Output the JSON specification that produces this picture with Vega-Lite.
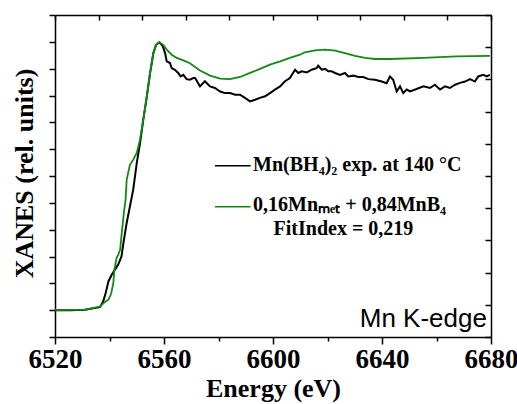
{
  "$schema": "https://vega.github.io/schema/vega-lite/v6.json",
  "width": 436,
  "height": 322,
  "autosize": {"type": "none"},
  "padding": {"left": 55, "top": 15, "right": 26, "bottom": 67},
  "background": "white",
  "config": {"view": {"stroke": null}},
  "datasets": {
    "exp": [
      {"E": 6520, "I": 0.0}, {"E": 6525.5, "I": 0.0}, {"E": 6531.0, "I": 0.002}, {"E": 6536.5, "I": 0.011},
      {"E": 6537.7, "I": 0.033}, {"E": 6538.6, "I": 0.064}, {"E": 6539.6, "I": 0.107}, {"E": 6540.8, "I": 0.132},
      {"E": 6542.0, "I": 0.151}, {"E": 6543.2, "I": 0.170}, {"E": 6544.4, "I": 0.200}, {"E": 6545.1, "I": 0.250},
      {"E": 6546.3, "I": 0.325}, {"E": 6547.5, "I": 0.387}, {"E": 6548.7, "I": 0.449}, {"E": 6550.0, "I": 0.548},
      {"E": 6551.2, "I": 0.622}, {"E": 6552.4, "I": 0.710}, {"E": 6553.7, "I": 0.797}, {"E": 6554.9, "I": 0.884},
      {"E": 6556.1, "I": 0.958}, {"E": 6557.1, "I": 0.989}, {"E": 6558.3, "I": 0.998}, {"E": 6559.5, "I": 0.985},
      {"E": 6560.4, "I": 0.958}, {"E": 6561.0, "I": 0.927}, {"E": 6562.2, "I": 0.921}, {"E": 6562.8, "I": 0.902},
      {"E": 6564.0, "I": 0.896}, {"E": 6565.2, "I": 0.884}, {"E": 6566.1, "I": 0.871}, {"E": 6567.1, "I": 0.877},
      {"E": 6568.3, "I": 0.861}, {"E": 6569.5, "I": 0.859}, {"E": 6570.8, "I": 0.865}, {"E": 6571.4, "I": 0.865},
      {"E": 6573.2, "I": 0.834}, {"E": 6575.0, "I": 0.853}, {"E": 6576.9, "I": 0.834}, {"E": 6578.7, "I": 0.828},
      {"E": 6580.6, "I": 0.815}, {"E": 6582.4, "I": 0.809}, {"E": 6584.2, "I": 0.809}, {"E": 6586.1, "I": 0.803},
      {"E": 6587.9, "I": 0.803}, {"E": 6589.7, "I": 0.791}, {"E": 6591.6, "I": 0.778}, {"E": 6593.4, "I": 0.784},
      {"E": 6595.2, "I": 0.791}, {"E": 6597.1, "I": 0.797}, {"E": 6598.9, "I": 0.809}, {"E": 6600.7, "I": 0.822},
      {"E": 6602.6, "I": 0.834}, {"E": 6604.4, "I": 0.853}, {"E": 6606.2, "I": 0.865}, {"E": 6608.1, "I": 0.896},
      {"E": 6609.3, "I": 0.884}, {"E": 6610.5, "I": 0.890}, {"E": 6612.4, "I": 0.886}, {"E": 6614.2, "I": 0.896},
      {"E": 6616.0, "I": 0.902}, {"E": 6616.6, "I": 0.911}, {"E": 6617.9, "I": 0.896}, {"E": 6619.1, "I": 0.899},
      {"E": 6620.3, "I": 0.890}, {"E": 6621.5, "I": 0.890}, {"E": 6622.8, "I": 0.884}, {"E": 6624.6, "I": 0.877},
      {"E": 6626.4, "I": 0.884}, {"E": 6627.6, "I": 0.871}, {"E": 6629.5, "I": 0.874}, {"E": 6631.3, "I": 0.869},
      {"E": 6633.1, "I": 0.869}, {"E": 6635.0, "I": 0.861}, {"E": 6637.4, "I": 0.859}, {"E": 6639.9, "I": 0.852},
      {"E": 6641.7, "I": 0.846}, {"E": 6642.9, "I": 0.871}, {"E": 6644.1, "I": 0.859}, {"E": 6645.4, "I": 0.815},
      {"E": 6646.6, "I": 0.834}, {"E": 6647.8, "I": 0.809}, {"E": 6649.1, "I": 0.822}, {"E": 6650.3, "I": 0.815},
      {"E": 6652.7, "I": 0.824}, {"E": 6655.2, "I": 0.834}, {"E": 6657.6, "I": 0.828}, {"E": 6659.4, "I": 0.840},
      {"E": 6661.3, "I": 0.822}, {"E": 6663.1, "I": 0.834}, {"E": 6664.9, "I": 0.828}, {"E": 6666.8, "I": 0.840},
      {"E": 6668.6, "I": 0.847}, {"E": 6670.5, "I": 0.852}, {"E": 6672.3, "I": 0.861}, {"E": 6674.1, "I": 0.852},
      {"E": 6675.3, "I": 0.871}, {"E": 6677.2, "I": 0.877}, {"E": 6678.4, "I": 0.871}, {"E": 6679.6, "I": 0.877}
    ],
    "fit": [
      {"E": 6520, "I": 0.0}, {"E": 6531, "I": 0.002}, {"E": 6536.5, "I": 0.013}, {"E": 6538.0, "I": 0.028},
      {"E": 6539.6, "I": 0.039}, {"E": 6540.6, "I": 0.061}, {"E": 6541.4, "I": 0.101}, {"E": 6541.8, "I": 0.151},
      {"E": 6542.6, "I": 0.194}, {"E": 6543.2, "I": 0.207}, {"E": 6543.9, "I": 0.225}, {"E": 6544.5, "I": 0.288},
      {"E": 6545.4, "I": 0.374}, {"E": 6545.9, "I": 0.412}, {"E": 6546.3, "I": 0.486}, {"E": 6547.5, "I": 0.542},
      {"E": 6548.7, "I": 0.561}, {"E": 6550.0, "I": 0.586}, {"E": 6551.2, "I": 0.636}, {"E": 6552.4, "I": 0.710},
      {"E": 6553.7, "I": 0.797}, {"E": 6554.9, "I": 0.884}, {"E": 6556.1, "I": 0.958}, {"E": 6557.1, "I": 0.989},
      {"E": 6558.3, "I": 0.999}, {"E": 6559.7, "I": 0.989}, {"E": 6561.0, "I": 0.971}, {"E": 6562.8, "I": 0.952},
      {"E": 6564.7, "I": 0.940}, {"E": 6567.1, "I": 0.931}, {"E": 6569.5, "I": 0.920}, {"E": 6573.2, "I": 0.893},
      {"E": 6576.9, "I": 0.874}, {"E": 6580.6, "I": 0.863}, {"E": 6584.2, "I": 0.861}, {"E": 6587.9, "I": 0.869},
      {"E": 6591.6, "I": 0.884}, {"E": 6595.2, "I": 0.899}, {"E": 6598.9, "I": 0.915}, {"E": 6602.6, "I": 0.927},
      {"E": 6606.2, "I": 0.940}, {"E": 6609.9, "I": 0.952}, {"E": 6611.7, "I": 0.961}, {"E": 6615.4, "I": 0.968},
      {"E": 6619.1, "I": 0.971}, {"E": 6622.8, "I": 0.967}, {"E": 6626.4, "I": 0.958}, {"E": 6630.1, "I": 0.948},
      {"E": 6633.8, "I": 0.940}, {"E": 6637.4, "I": 0.936}, {"E": 6642.9, "I": 0.936}, {"E": 6655.2, "I": 0.940},
      {"E": 6667.4, "I": 0.946}, {"E": 6679.6, "I": 0.948}
    ],
    "legend": [
      {"series": "exp", "E1": 6578.7, "E2": 6591.8, "I": 0.538},
      {"series": "fit", "E1": 6578.7, "E2": 6591.8, "I": 0.385}
    ],
    "labels": [
      {"label": "Mn(BH₄)₂ exp. at 140 °C", "E": 6592.7, "I": 0.519},
      {"label": "0,16Mnₘₑₜ + 0,84MnB₄", "E": 6592.7, "I": 0.371},
      {"label": "FitIndex = 0,219", "E": 6600.2, "I": 0.280}
    ]
  },
  "layer": [
    {
      "data": {"name": "exp"},
      "mark": {"type": "line", "color": "#000000", "strokeWidth": 2, "interpolate": "linear"},
      "encoding": {
        "x": {"field": "E", "type": "quantitative",
          "scale": {"domain": [6520, 6680], "nice": false, "zero": false},
          "axis": {"orient": "bottom", "values": [6520, 6560, 6600, 6640, 6680], "format": "d", "title": "Energy (eV)",
            "grid": false, "domainColor": "#000", "domainWidth": 1.5, "tickColor": "#000", "tickWidth": 1.5, "tickSize": 7,
            "labelFont": "Liberation Serif", "labelFontWeight": "bold", "labelFontSize": 27, "labelColor": "#000", "labelPadding": 2,
            "labelFlush": false, "labelOverlap": false,
            "titleFont": "Liberation Serif", "titleFontWeight": "bold", "titleFontSize": 26, "titleColor": "#000",
            "titleBaseline": "alphabetic", "titleY": 59, "titleX": 218, "titleAnchor": "middle"}},
        "y": {"field": "I", "type": "quantitative",
          "scale": {"domain": [-0.1, 1.1], "nice": false, "zero": false},
          "axis": {"orient": "left", "values": [-0.1, 0, 0.1, 0.2, 0.3, 0.4, 0.5, 0.6, 0.7, 0.8, 0.9, 1.0, 1.1],
            "labels": false, "grid": false, "domainColor": "#000", "domainWidth": 1.5, "tickColor": "#000", "tickWidth": 1.5, "tickSize": 6,
            "title": "XANES (rel. units)", "titleFont": "Liberation Serif", "titleFontWeight": "bold", "titleFontSize": 26, "titleColor": "#000",
            "titleAngle": -90, "titleBaseline": "alphabetic", "titleAlign": "center", "titleX": -23, "titleY": 158}}
      }
    },
    {
      "data": {"name": "fit"},
      "mark": {"type": "line", "color": "#128a12", "strokeWidth": 1.8, "interpolate": "linear"},
      "encoding": {
        "x": {"field": "E", "type": "quantitative",
          "axis": {"orient": "top", "values": [6520, 6536, 6552, 6568, 6584, 6600, 6616, 6632, 6648, 6664, 6680],
            "labels": false, "title": null, "grid": false, "domainColor": "#000", "domainWidth": 1.5, "tickColor": "#000", "tickWidth": 1.5, "tickSize": -5}},
        "y": {"field": "I", "type": "quantitative",
          "axis": {"orient": "right", "values": [-0.1, 0.02, 0.14, 0.26, 0.38, 0.5, 0.62, 0.74, 0.86, 0.98, 1.1],
            "labels": false, "title": null, "grid": false, "domainColor": "#000", "domainWidth": 1.5, "tickColor": "#000", "tickWidth": 1.5, "tickSize": -6}}
      }
    },
    {
      "data": {"name": "legend"},
      "mark": {"type": "rule", "strokeWidth": 1.5},
      "encoding": {
        "x": {"field": "E1", "type": "quantitative",
          "axis": {"orient": "bottom", "values": [6540, 6580, 6620, 6660], "labels": false, "title": null, "domain": false,
            "grid": false, "tickColor": "#000", "tickWidth": 1.5, "tickSize": 4}},
        "x2": {"field": "E2"},
        "y": {"field": "I", "type": "quantitative", "axis": null},
        "color": {"field": "series", "type": "nominal", "scale": {"domain": ["exp", "fit"], "range": ["#000000", "#128a12"]}, "legend": null}
      }
    },
    {
      "data": {"name": "labels"},
      "mark": {"type": "text", "align": "left", "baseline": "alphabetic", "font": "Liberation Serif", "fontWeight": "bold", "fontSize": 20, "color": "#000"},
      "encoding": {
        "x": {"field": "E", "type": "quantitative", "axis": null},
        "y": {"field": "I", "type": "quantitative", "axis": null},
        "text": {"field": "label"}
      }
    },
    {
      "data": {"values": [{"label": "Mn K-edge", "E": 6678.5, "I": -0.062}]},
      "mark": {"type": "text", "align": "right", "baseline": "alphabetic", "font": "Liberation Sans", "fontSize": 26, "color": "#000"},
      "encoding": {
        "x": {"field": "E", "type": "quantitative", "axis": null},
        "y": {"field": "I", "type": "quantitative", "axis": null},
        "text": {"field": "label"}
      }
    }
  ],
  "resolve": {"axis": {"x": "independent", "y": "independent"}}
}
